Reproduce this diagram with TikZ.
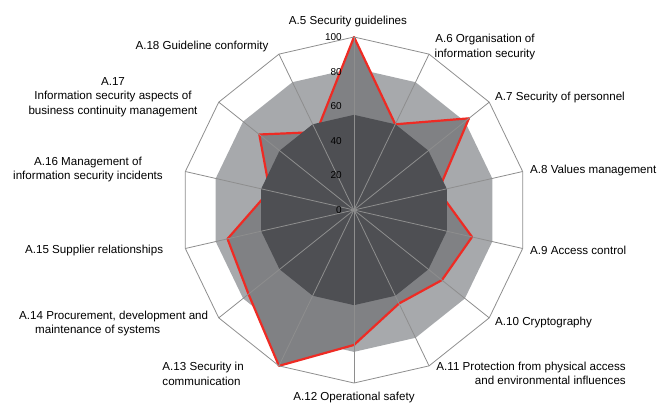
\documentclass[tikz,border=0pt]{standalone}
\usepackage{fontspec}
\setmainfont{Liberation Sans}
\usepackage{tikz}
\definecolor{bandlight}{HTML}{A7A9AC}
\definecolor{bandmid}{HTML}{808184}
\definecolor{banddark}{HTML}{4E4F53}
\definecolor{gridline}{HTML}{8E8E8E}
\definecolor{scorered}{HTML}{EE2B24}
\tikzset{x=1pt, y=1pt,
  spoke/.style={draw=gridline, line width=0.8pt},
  axislabel/.style={font=\fontsize{11.6}{14.3}\selectfont, inner sep=0pt},
  ticklabel/.style={font=\fontsize{10}{12}\selectfont, inner sep=0pt, anchor=east}}

\begin{document}
\begin{tikzpicture}
\useasboundingbox (-354,-195) rectangle (307,210);
\coordinate (O) at (0,0);
\foreach \k in {0,...,13} {
  \coordinate (P\k) at ({90-\k*360/14}:173);
  \coordinate (L\k) at ({90-\k*360/14}:{0.82*173});
  \coordinate (D\k) at ({90-\k*360/14}:{0.55*173});
}
\foreach \v [count=\k from 0] in {100,55,85,50,70,65,60,78,100,78,75,50,70,50}
  \coordinate (S\k) at ({90-\k*360/14}:{\v*1.73});

\fill[bandlight] (L0) \foreach \k in {1,...,13} {-- (L\k)} -- cycle;
\filldraw[fill=bandmid, draw=scorered, line width=2.2pt, line join=round] (S0) \foreach \k in {1,...,13} {-- (S\k)} -- cycle;
\fill[banddark] (D0) \foreach \k in {1,...,13} {-- (D\k)} -- cycle;
\foreach \k in {0,...,13} \draw[spoke] (O) -- (P\k);
\draw[gridline, line width=0.8pt] (P0) \foreach \k in {1,...,13} {-- (P\k)} -- cycle;

\foreach \t in {0,20,...,100} \node[ticklabel] (T\t) at (-12,{\t*1.73}) {\t};

\node[axislabel] (a5) at (-6,188) {A.5 Security guidelines};
\node[axislabel, align=center] (a6) at (131,163) {A.6 Organisation of\\information security};
\node[axislabel, anchor=west] (a7) at (141,112.7) {A.7 Security of personnel};
\node[axislabel, anchor=west] (a8) at (176,40) {A.8 Values management};
\node[axislabel, anchor=west] (a9) at (176,-40) {A.9 Access control};
\node[axislabel, anchor=west] (a10) at (141,-112.7) {A.10 Cryptography};
\node[axislabel, anchor=east, align=right] (a11) at (272,-163) {A.11 Protection from physical access\\and environmental influences};
\node[axislabel] (a12) at (0,-187.3) {A.12 Operational safety};
\node[axislabel, anchor=west, align=left] (a13) at (-191.7,-163.7) {A.13 Security in\\communication};
\node[axislabel, anchor=west, align=left] (a14) at (-335,-113.5) {A.14 Procurement, development and\\\hspace*{16pt}maintenance of systems};
\node[axislabel, anchor=east] (a15) at (-190.7,-40) {A.15 Supplier relationships};
\node[axislabel, align=center] (a16) at (-266,40.7) {A.16 Management of\\information security incidents};
\node[axislabel, align=center] (a17) at (-241,113) {A.17\\Information security aspects of\\business continuity management};
\node[axislabel] (a18) at (-152,163.3) {A.18 Guideline conformity};
\end{tikzpicture}
\end{document}
